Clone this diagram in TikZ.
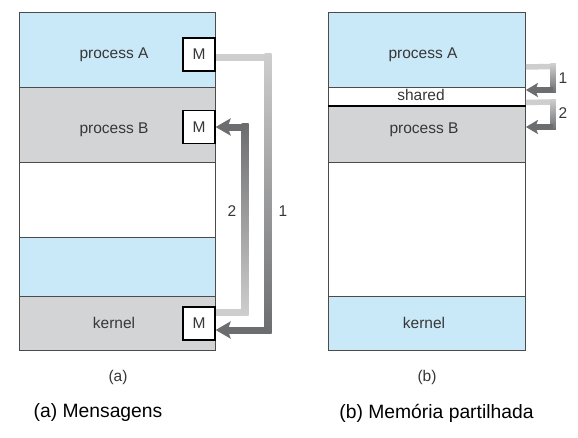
\documentclass[tikz,border=0pt]{standalone}
\usepackage{fontspec}
\setmainfont{Liberation Sans}
\usetikzlibrary{arrows.meta,positioning}

\definecolor{procblue}{RGB}{201,233,248}
\definecolor{procgray}{RGB}{211,212,214}
\definecolor{edgegray}{RGB}{75,75,75}
\definecolor{txtgray}{RGB}{55,55,55}
\definecolor{pipelight}{RGB}{206,206,206}
\definecolor{pipedark}{RGB}{108,109,111}

\tikzset{
  band/.style={draw=edgegray,line width=0.9pt,anchor=north west,inner sep=0pt},
  lband/.style={band,minimum width=196},
  rband/.style={band,minimum width=197},
  lbl/.style={anchor=base,inner sep=0pt,text=txtgray,font=\fontsize{15.5}{18}\selectfont},
  mbox/.style={draw=black,line width=1.2pt,fill=white,minimum width=32,minimum height=33,
    inner sep=0pt,text=txtgray,font=\fontsize{15.5}{18}\selectfont},
  pipe/.style={line width=7pt},
  spipe/.style={line width=5.5pt},
  bigtip/.tip={Stealth[length=15pt,width=17pt,inset=3pt]},
  smalltip/.tip={Stealth[length=12pt,width=14pt,inset=2.5pt]},
  numtxt/.style={text=txtgray,font=\fontsize{15.5}{18}\selectfont},
  captxt/.style={text=black,font=\fontsize{19.3}{23}\selectfont}
}

\begin{document}
\begin{tikzpicture}[x=1pt,y=-1pt]
\useasboundingbox (0,0) rectangle (578,437);
\fill[white] (0,0) rectangle (578,437);

% (a) message passing
\node[lband,fill=procblue,minimum height=75] (la) at (19,12) {};
\node[lband,fill=procgray,minimum height=75] (lb) at (19,87) {};
\node[lband,fill=white,minimum height=75] (lf) at (19,162) {};
\node[lband,fill=procblue,minimum height=59] (lu) at (19,237) {};
\node[lband,fill=procgray,minimum height=54] (lk) at (19,296) {};

\node[lbl] (la-t) at (114,58) {process A};
\node[lbl] (lb-t) at (114,133) {process B};
\node[lbl] (lk-t) at (114,328) {kernel};

\node[mbox] (ma) at (199,54.5) {M};
\node[mbox] (mb) at (199,127) {M};
\node[mbox] (mk) at (199,323.5) {M};

% arrow 1: A -> kernel
\coordinate (p1a) at (268,57);
\coordinate (p1b) at (268,330);
\draw[pipe,draw=pipelight] ([yshift=-2.5pt]ma.east) -- (p1a);
\shade[top color=pipelight,bottom color=pipedark] (264.5,53.5) rectangle (271.5,333.5);
\draw[pipe,draw=pipedark,-bigtip] (p1b) -- (p1b -| mk.east);

% arrow 2: kernel -> B
\coordinate (p2a) at (245,312);
\coordinate (p2b) at (245,127);
\draw[pipe,draw=pipelight] ([yshift=11.5pt]mk.east) -- (p2a);
\shade[top color=pipedark,bottom color=pipelight] (241.5,123.5) rectangle (248.5,315.5);
\draw[pipe,draw=pipedark,-bigtip] (p2b) -- (mb.east);

\node[numtxt] (n2) at (232,211) {2};
\node[numtxt] (n1) at (283,211) {1};

% (b) shared memory
\node[rband,fill=procblue,minimum height=75] (ra) at (328,12) {};
\node[rband,fill=white,minimum height=18] (rs) at (328,87) {};
\node[rband,fill=procgray,minimum height=57] (rb) at (328,105) {};
\node[rband,fill=white,minimum height=134] (rf) at (328,162) {};
\node[rband,fill=procblue,minimum height=54] (rk) at (328,296) {};
\draw[line width=2pt] (rs.south west) -- (rs.south east);

\node[lbl] (ra-t) at (423,58) {process A};
\node[lbl] (rs-t) at (421,100.5) {shared};
\node[lbl] (rb-t) at (424,133) {process B};
\node[lbl] (rk-t) at (424,328) {kernel};

% arrow 1: A -> shared
\coordinate (q1a) at (553,66.5);
\coordinate (q1b) at (553,90);
\draw[spipe,draw=pipelight] ([yshift=-17pt]ra.east) -- (q1a);
\shade[top color=pipelight,bottom color=pipedark] (550.25,63.75) rectangle (555.75,92.75);
\draw[spipe,draw=pipedark,-smalltip] (q1b) -- (q1b -| rs.east);

% arrow 2: shared -> B
\coordinate (q2a) at (553,102);
\coordinate (q2b) at (553,127);
\draw[spipe,draw=pipelight] ([yshift=-6pt]rs.east) -- (q2a);
\shade[top color=pipelight,bottom color=pipedark] (550.25,99.25) rectangle (555.75,129.75);
\draw[spipe,draw=pipedark,-smalltip] (q2b) -- (q2b -| rb.east);

\node[numtxt] (m1) at (563,78) {1};
\node[numtxt] (m2) at (563,113) {2};

% captions
\node[numtxt] (capa) at (118,377.5) {(a)};
\node[numtxt] (capb) at (427,377.5) {(b)};
\node[captxt] (tita) at (98,413) {(a) Mensagens};
\node[captxt] (titb) at (436.5,413) {(b) Memória partilhada};
\end{tikzpicture}
\end{document}
